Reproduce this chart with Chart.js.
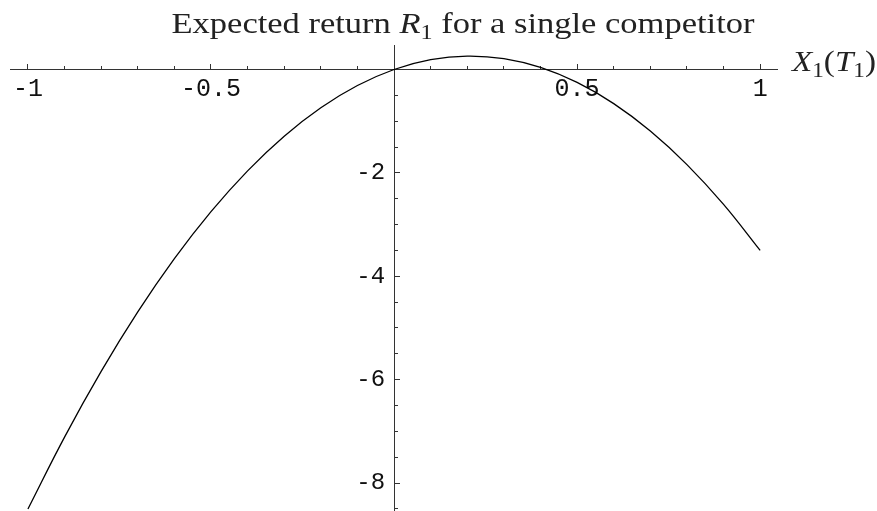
<!DOCTYPE html>
<html>
<head>
<meta charset="utf-8">
<script src="https://cdn.jsdelivr.net/npm/chart.js@4.4.1/dist/chart.umd.min.js"></script>
<style>
  html, body { margin: 0; padding: 0; background: #fff; }
  #wrap { width: 877px; height: 511px; position: relative; }
</style>
</head>
<body>
<div id="wrap"><canvas id="chartRetorno"></canvas></div>
<script>
// X1(T1) sample positions and expected return R1 read at each one
const xPos = [-1, -0.9, -0.8, -0.7, -0.6, -0.5, -0.4, -0.3, -0.2, -0.1, 0,
  0.1, 0.2, 0.3, 0.4, 0.5, 0.6, 0.7, 0.8, 0.9, 1];
const retorno = [-8.5, -7.11, -5.84, -4.69, -3.66, -2.75, -1.96, -1.29, -0.74, -0.31, 0,
  0.19, 0.26, 0.21, 0.04, -0.25, -0.66, -1.19, -1.84, -2.61, -3.5];

// labels keyed by tick index (tenths on x, whole units on y)
const xLabels = { '-10': '-1', '-5': '-0.5', '5': '0.5', '10': '1' };
const yLabels = { '-8': '-8', '-6': '-6', '-4': '-4', '-2': '-2' };

const AXIS_COLOR = '#333';
const SERIF = '"Liberation Serif", serif';
const MONO = '"Liberation Mono", monospace';

// draws a run of text pieces, fitted to a given width; sub pieces are smaller and lowered
function drawRuns(ctx, runs, x, y, size, width, align) {
  const fontOf = (r) => `${r.italic ? 'italic ' : ''}${r.sub ? size * 0.7 : size}px ${SERIF}`;
  let total = 0;
  runs.forEach((r) => { ctx.font = fontOf(r); total += ctx.measureText(r.t).width; });
  const k = width / total;
  ctx.save();
  ctx.translate(align === 'center' ? x - width / 2 : x, y);
  ctx.scale(k, 1);
  let cx = 0;
  runs.forEach((r) => {
    ctx.font = fontOf(r);
    ctx.fillText(r.t, cx, r.sub ? size * 0.22 : 0);
    cx += ctx.measureText(r.t).width;
  });
  ctx.restore();
}

const textos = {
  id: 'textos',
  afterDraw(chart) {
    const { ctx } = chart;
    const sx = chart.scales.x;
    ctx.save();
    ctx.fillStyle = '#222';
    ctx.textBaseline = 'alphabetic';
    drawRuns(ctx, [
      { t: 'Expected return ' },
      { t: 'R', italic: true },
      { t: '1', sub: true },
      { t: ' for a single competitor' },
    ], 463, 33, 29, 583, 'center');
    drawRuns(ctx, [
      { t: 'X', italic: true },
      { t: '1', sub: true },
      { t: '(' },
      { t: 'T', italic: true },
      { t: '1', sub: true },
      { t: ')' },
    ], sx.right + 15, 71, 29, 84, 'left');
    ctx.restore();
  },
};

// axes sit on the origin, so they take no room in the layout
function sinEspacio(s) {
  if (s.isHorizontal()) s.height = 0;
  else s.width = 0;
  s.paddingTop = 0;
  s.paddingBottom = 0;
  s.paddingLeft = 0;
  s.paddingRight = 0;
}

const X_MIN = -1.049;
const X_MAX = 1.046;
const Y_MIN = -8.54;
const Y_MAX = 0.474;

// extra scale that only draws the longer major tick marks
function marcasMayores(min, max, step, pos) {
  return {
    type: 'linear',
    min,
    max,
    position: pos,
    afterFit: sinEspacio,
    border: { display: false },
    grid: { drawOnChartArea: false, drawTicks: true, tickLength: -6, color: AXIS_COLOR },
    ticks: {
      stepSize: step,
      includeBounds: false,
      autoSkip: false,
      maxRotation: 0,
      callback(v) { return Math.abs(v) < 1e-9 ? null : ''; },
    },
  };
}

const ctx = document.getElementById('chartRetorno').getContext('2d');
new Chart(ctx, {
  type: 'line',
  data: {
    datasets: [{
      data: xPos.map((x, i) => ({ x, y: retorno[i] })),
      borderColor: '#000',
      borderWidth: 1.3,
      pointRadius: 0,
      tension: 0.4,
      fill: false,
    }],
  },
  options: {
    responsive: true,
    maintainAspectRatio: false,
    animation: false,
    layout: { padding: { left: 10, right: 100, top: 45, bottom: 0 } },
    plugins: { legend: { display: false }, title: { display: false }, tooltip: { enabled: false } },
    scales: {
      x: {
        type: 'linear',
        min: X_MIN,
        max: X_MAX,
        position: { y: 0 },
        afterFit: sinEspacio,
        border: { display: true, color: AXIS_COLOR, width: 1 },
        grid: { drawOnChartArea: false, drawTicks: true, tickLength: -4, color: AXIS_COLOR },
        ticks: {
          stepSize: 0.1,
          includeBounds: false,
          autoSkip: false,
          maxRotation: 0,
          padding: 9,
          color: '#111',
          font: { family: MONO, size: 25 },
          callback(v) {
            const k = Math.round(v * 10);
            if (k === 0) return null;
            return xLabels[k] || '';
          },
        },
      },
      y: {
        type: 'linear',
        min: Y_MIN,
        max: Y_MAX,
        position: { x: 0 },
        afterFit: sinEspacio,
        border: { display: true, color: AXIS_COLOR, width: 1 },
        grid: { drawOnChartArea: false, drawTicks: true, tickLength: -4, color: AXIS_COLOR },
        ticks: {
          stepSize: 0.5,
          includeBounds: false,
          autoSkip: false,
          callback(v) { return Math.abs(v) < 1e-9 ? null : ''; },
        },
      },
      xMayor: marcasMayores(X_MIN, X_MAX, 0.5, { y: 0 }),
      yMayor: marcasMayores(Y_MIN, Y_MAX, 2, { x: 0 }),
      // y labels hang just left of the vertical axis
      yEtiquetas: {
        type: 'linear',
        min: Y_MIN,
        max: Y_MAX,
        position: { x: -0.0246 },
        afterFit: sinEspacio,
        border: { display: false },
        grid: { display: false },
        ticks: {
          stepSize: 2,
          includeBounds: false,
          autoSkip: false,
          color: '#111',
          font: { family: MONO, size: 24 },
          callback(v) {
            const k = Math.round(v);
            if (k === 0) return null;
            return yLabels[k] || '';
          },
        },
      },
    },
  },
  plugins: [textos],
});
</script>
</body>
</html>
